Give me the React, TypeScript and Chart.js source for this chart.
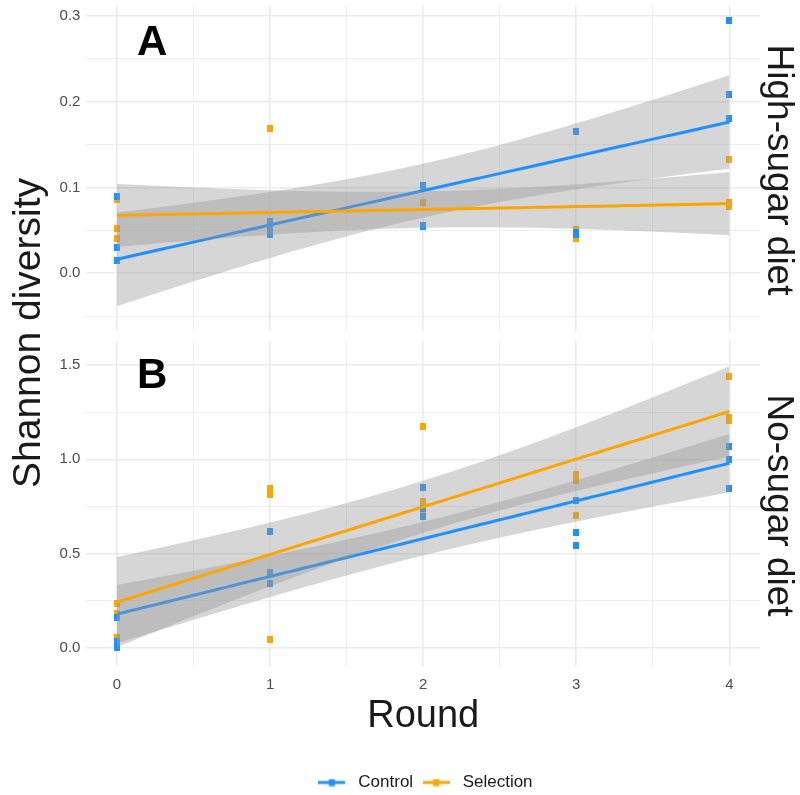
import React, { useEffect, useRef } from "react";
import { Chart, registerables } from "chart.js";

Chart.register(...registerables);

// ---------------- data ----------------
const rounds = [0, 1, 2, 3, 4];
const seriesNames = ["Control", "Selection"];
const panelLetters = ["A", "B"];
const stripLabels = ["High-sugar diet", "No-sugar diet"];
const yTitle = "Shannon diversity";
const xTitle = "Round";

// High-sugar diet (panel A): replicate values per round
const highControl = [
  [0.0895, 0.03, 0.015],
  [0.06, 0.052, 0.045],
  [0.102, 0.056, 0.054],
  [0.165, 0.048, 0.045],
  [0.295, 0.209, 0.18],
];
const highSelection = [
  [0.052, 0.041, 0.086],
  [0.169, 0.047, 0.05],
  [0.083, 0.1, 0.054],
  [0.04, 0.048, 0.051],
  [0.133, 0.083, 0.078],
];
// No-sugar diet (panel B)
const noControl = [
  [0.16, 0.035, 0.005],
  [0.62, 0.4, 0.34],
  [0.85, 0.74, 0.695],
  [0.78, 0.61, 0.545],
  [1.07, 0.997, 0.846],
];
const noSelection = [
  [0.235, 0.185, 0.058],
  [0.845, 0.815, 0.045],
  [1.175, 0.775, 0.72],
  [0.92, 0.89, 0.7],
  [1.44, 1.206, 1.22],
];

const xMajorTicks = [0, 1, 2, 3, 4];
const xMinorTicks = [0.5, 1.5, 2.5, 3.5];
const yMajorHigh = [0, 0.1, 0.2, 0.3];
const yMinorHigh = [-0.05, 0.05, 0.15, 0.25];
const yMajorNo = [0, 0.5, 1.0, 1.5];
const yMinorNo = [0.25, 0.75, 1.25];

// ---------------- styles ----------------
const BLUE = "#1E90FF";
const ORANGE = "#FFA500";
const RIBBON = "rgba(153,153,153,0.4)";
const GRID = "#EBEBEB";
const FONT = "'Liberation Sans', Arial, Helvetica, sans-serif";

function squareImg(color: string) {
  const c = document.createElement("canvas");
  c.width = 6;
  c.height = 7;
  const ctx = c.getContext("2d")!;
  ctx.fillStyle = color;
  ctx.fillRect(0, 0, 6, 7);
  return c;
}
function keyImg(color: string) {
  const c = document.createElement("canvas");
  c.width = 27;
  c.height = 8;
  const ctx = c.getContext("2d")!;
  ctx.fillStyle = color;
  ctx.fillRect(0, 2.5, 27, 3);
  ctx.fillRect(10.5, 0.5, 6, 7);
  return c;
}

// Student t 0.975 quantile (Cornish-Fisher expansion)
function tCrit(df: number) {
  const z = 1.959964;
  const z3 = z ** 3, z5 = z ** 5, z7 = z ** 7;
  return (
    z +
    (z3 + z) / (4 * df) +
    (5 * z5 + 16 * z3 + 3 * z) / (96 * df * df) +
    (3 * z7 + 19 * z5 + 17 * z3 - 15 * z) / (384 * df ** 3)
  );
}

// ordinary least-squares fit with 95% confidence band (like geom_smooth(method = "lm"))
function lmFit(groups: number[][]) {
  const xs: number[] = [];
  const ys: number[] = [];
  groups.forEach((vals, i) => vals.forEach((v) => { xs.push(rounds[i]); ys.push(v); }));
  const n = xs.length;
  const mx = xs.reduce((s, v) => s + v, 0) / n;
  const my = ys.reduce((s, v) => s + v, 0) / n;
  let sxx = 0, sxy = 0;
  for (let i = 0; i < n; i++) {
    sxx += (xs[i] - mx) ** 2;
    sxy += (xs[i] - mx) * (ys[i] - my);
  }
  const slope = sxy / sxx;
  const icpt = my - slope * mx;
  let sse = 0;
  for (let i = 0; i < n; i++) sse += (ys[i] - icpt - slope * xs[i]) ** 2;
  const s = Math.sqrt(sse / (n - 2));
  const t = tCrit(n - 2);
  const lo = Math.min(...xs), hi = Math.max(...xs);
  const grid = Array.from({ length: 80 }, (_, i) => lo + ((hi - lo) * i) / 79);
  const pred = (x: number) => icpt + slope * x;
  const se = (x: number) => s * Math.sqrt(1 / n + (x - mx) ** 2 / sxx);
  return {
    line: grid.map((x) => ({ x, y: pred(x) })),
    upper: grid.map((x) => ({ x, y: pred(x) + t * se(x) })),
    lower: grid.map((x) => ({ x, y: pred(x) - t * se(x) })),
  };
}

function toPoints(groups: number[][]) {
  const out: { x: number; y: number }[] = [];
  groups.forEach((vals, i) => vals.forEach((v) => out.push({ x: rounds[i], y: v })));
  return out;
}

function zeroPad(s: any) {
  s.paddingTop = 0;
  s.paddingBottom = 0;
  s.paddingLeft = 0;
  s.paddingRight = 0;
}

function makeConfig(panel: number): any {
  const isBottom = panel === 1;
  const ctrl = isBottom ? noControl : highControl;
  const sel = isBottom ? noSelection : highSelection;
  const yMajor = isBottom ? yMajorNo : yMajorHigh;
  const yMinor = isBottom ? yMinorNo : yMinorHigh;
  const yMin = isBottom ? -0.0954 : -0.0667;
  const yMax = isBottom ? 1.6272 : 0.3122;
  const fc = lmFit(ctrl);
  const fs = lmFit(sel);
  const sqB = squareImg(BLUE);
  const sqO = squareImg(ORANGE);
  const keys = [keyImg(BLUE), keyImg(ORANGE)];
  const colors = [BLUE, ORANGE];

  const bandLine = { borderColor: "rgba(0,0,0,0)", borderWidth: 0, pointRadius: 0, tension: 0 };

  const datasets: any[] = [
    { type: "scatter", label: seriesNames[0], data: toPoints(ctrl), pointStyle: sqB, pointRadius: 4, order: 9 },
    { type: "scatter", label: seriesNames[1], data: toPoints(sel), pointStyle: sqO, pointRadius: 4, order: 10 },
    { type: "line", label: "c-lo", data: fc.lower, ...bandLine, fill: false, order: 8 },
    { type: "line", label: "c-hi", data: fc.upper, ...bandLine, fill: "-1", backgroundColor: RIBBON, order: 8 },
    { type: "line", label: "c-fit", data: fc.line, borderColor: BLUE, borderWidth: 3, pointRadius: 0, fill: false, order: 7 },
    { type: "line", label: "s-lo", data: fs.lower, ...bandLine, fill: false, order: 6 },
    { type: "line", label: "s-hi", data: fs.upper, ...bandLine, fill: "-1", backgroundColor: RIBBON, order: 6 },
    { type: "line", label: "s-fit", data: fs.line, borderColor: ORANGE, borderWidth: 3, pointRadius: 0, fill: false, order: 5 },
  ];

  const annot = {
    id: "annot" + panel,
    afterDatasetsDraw(chart: any) {
      const { ctx, scales } = chart;
      const area = chart.chartArea;
      ctx.save();
      // panel letter
      ctx.fillStyle = "#000";
      ctx.font = `bold 42px ${FONT}`;
      ctx.textAlign = "center";
      ctx.textBaseline = "middle";
      const ly = isBottom ? 1.44 : 0.268;
      ctx.fillText(panelLetters[panel], scales.x.getPixelForValue(0.23), scales.y.getPixelForValue(ly));
      // strip label on the right
      ctx.fillStyle = "#1A1A1A";
      ctx.font = `37px ${FONT}`;
      ctx.translate(778, (area.top + area.bottom) / 2 + 2);
      ctx.rotate(Math.PI / 2);
      ctx.fillText(stripLabels[panel], 0, 0);
      ctx.restore();
      if (!isBottom) {
        ctx.save();
        ctx.fillStyle = "#1A1A1A";
        ctx.font = `39px ${FONT}`;
        ctx.textAlign = "center";
        ctx.textBaseline = "middle";
        ctx.translate(29, 333);
        ctx.rotate(-Math.PI / 2);
        ctx.fillText(yTitle, 0, 0);
        ctx.restore();
      }
    },
  };

  return {
    type: "line",
    data: { datasets },
    plugins: [annot],
    options: {
      responsive: false,
      animation: false,
      devicePixelRatio: 1,
      layout: {
        padding: isBottom
          ? { top: 341, bottom: 0, left: 0, right: 40 }
          : { top: 5.5, bottom: 464.5, left: 0, right: 40 },
      },
      plugins: {
        tooltip: { enabled: false },
        legend: {
          display: isBottom,
          position: "bottom",
          fullSize: false,
          align: "center",
          labels: {
            usePointStyle: true,
            pointStyleWidth: 36,
            padding: 5,
            color: "#1A1A1A",
            font: { family: FONT, size: 17 },
            generateLabels: () =>
              seriesNames.map((name, i) => ({
                text: name,
                pointStyle: keys[i],
                fillStyle: colors[i],
                strokeStyle: colors[i],
                lineWidth: 0,
                hidden: false,
                datasetIndex: i,
                fontColor: "#1A1A1A",
              })),
          },
        },
      },
      scales: {
        x: {
          type: "linear",
          min: -0.2,
          max: 4.2,
          afterBuildTicks: (s: any) => {
            s.ticks = [...xMajorTicks, ...xMinorTicks].sort((a, b) => a - b).map((v) => ({ value: v }));
          },
          afterFit: (s: any) => {
            s.height = isBottom ? 103 : 0;
            zeroPad(s);
          },
          ticks: {
            display: isBottom,
            autoSkip: false,
            maxRotation: 0,
            padding: 10,
            color: "#4D4D4D",
            font: { family: FONT, size: 15 },
            callback: (v: number) => (xMajorTicks.includes(v) ? String(v) : ""),
          },
          grid: {
            color: GRID,
            drawTicks: false,
            lineWidth: (c: any) => (c.tick && xMajorTicks.includes(c.tick.value) ? 1.6 : 0.8),
          },
          border: { display: false },
          title: {
            display: isBottom,
            text: xTitle,
            color: "#1A1A1A",
            font: { family: FONT, size: 38 },
            padding: { top: 0, bottom: 29.5 },
          },
        },
        y: {
          type: "linear",
          min: yMin,
          max: yMax,
          afterBuildTicks: (s: any) => {
            s.ticks = [...yMajor, ...yMinor].sort((a, b) => a - b).map((v) => ({ value: v }));
          },
          afterFit: (s: any) => {
            s.width = 86.4;
            zeroPad(s);
          },
          ticks: {
            autoSkip: false,
            padding: 6,
            color: "#4D4D4D",
            font: { family: FONT, size: 15 },
            callback: (v: number) => (yMajor.includes(v) ? v.toFixed(1) : ""),
          },
          grid: {
            color: GRID,
            drawTicks: false,
            lineWidth: (c: any) => (c.tick && yMajor.includes(c.tick.value) ? 1.6 : 0.8),
          },
          border: { display: false },
        },
      },
    },
  };
}

export default function App() {
  const refA = useRef<HTMLCanvasElement>(null);
  const refB = useRef<HTMLCanvasElement>(null);
  useEffect(() => {
    const a = new Chart(refA.current!, makeConfig(0));
    const b = new Chart(refB.current!, makeConfig(1));
    return () => {
      a.destroy();
      b.destroy();
    };
  }, []);
  const cA: React.CSSProperties = { position: "absolute", left: 0, top: 0, width: 800, height: 795 };
  const cB: React.CSSProperties = { position: "absolute", left: 0, top: 0, width: 800, height: 801 };
  return (
    <div style={{ position: "fixed", left: 0, top: 0, width: 800, height: 795, overflow: "hidden", background: "#fff" }}>
      <canvas ref={refA} width={800} height={795} style={cA} />
      <canvas ref={refB} width={800} height={801} style={cB} />
    </div>
  );
}
